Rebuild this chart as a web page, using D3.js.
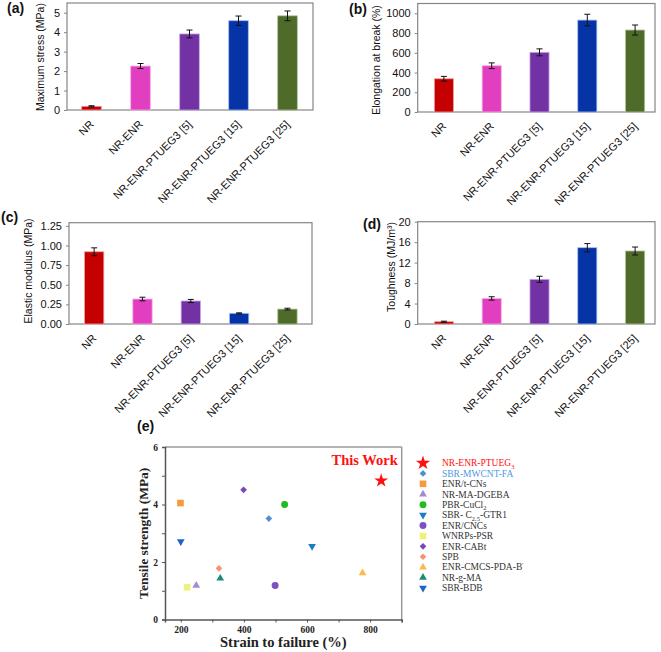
<!DOCTYPE html>
<html><head><meta charset="utf-8">
<script src="https://cdn.jsdelivr.net/npm/d3@7"></script>
<style>body{margin:0;background:#fff}svg{display:block}</style>
</head><body>
<svg id="c" width="661" height="652"></svg>
<script>
// ---------- data ----------
const categories = ["NR","NR-ENR","NR-ENR-PTUEG3 [5]","NR-ENR-PTUEG3 [15]","NR-ENR-PTUEG3 [25]"];
const barColors  = ["#c40000","#e23ec0","#7232a4","#0634a6","#4e6b2a"];
const barStrokes = ["#f0a0a0","#f7b0e6","#c8a8e4","#a8bcf0","#b0c098"];

const maxStress     = [0.19, 2.26, 3.91, 4.59, 4.84];
const maxStressErr  = [0.03, 0.13, 0.20, 0.24, 0.25];
const stressTicks   = [0,1,2,3,4,5];

const elongation    = [337, 469, 605, 932, 831];
const elongationErr = [24, 29, 35, 59, 51];
const elongTicks    = [0,200,400,600,800,1000];

const modulus       = [0.92, 0.318, 0.293, 0.136, 0.19];
const modulusErr    = [0.05, 0.023, 0.02, 0.006, 0.011];
const modulusTicks  = [0,0.25,0.5,0.75,1.0,1.25];

const toughness     = [0.45, 5.0, 8.73, 14.92, 14.27];
const toughnessErr  = [0.1, 0.33, 0.6, 0.8, 0.78];
const toughTicks    = [0,4,8,12,16,20];

// comparison scatter (e)
const compNames  = ["NR-ENR-PTUEG3","SBR-MWCNT-FA","ENR/t-CNs","NR-MA-DGEBA","PBR-CuCl2","SBR- C2.5-GTR1","ENR/CNCs","WNRPs-PSR","ENR-CABt","SPB","ENR-CMCS-PDA-B'","NR-g-MA","SBR-BDB"];
const compStrain = [835, 479, 199, 249, 529, 616, 499, 220, 399, 321, 776, 325, 200];
const compStress = [4.83, 3.51, 4.05, 1.18, 4.0, 2.55, 1.18, 1.12, 4.51, 1.78, 1.62, 1.43, 2.71];
const compColors = ["#ff1010","#4f8fd0","#f89a3c","#a48ad0","#22bb22","#1a7fc0","#7c52c0","#eef27a","#7a46b8","#f99070","#fdb84e","#1a8c72","#1f62cc"];
const compShapes = ["star","diamond","square","triangle","circle","down","circle","square","diamond","diamond","triangle","triangle","down"];
const strainTicks = [200,300,400,500,600,700,800,900];
const tensileTicks = [0,1,2,3,4,5,6];

// ---------- drawing ----------
const svg = d3.select("#c");
svg.append("rect").attr("width",661).attr("height",652).attr("fill","#fff");
const SANS = "'Liberation Sans', Arial, sans-serif";
const SERIF = "'Liberation Serif', 'Times New Roman', serif";

function barPanel(o){
  const g = svg.append("g");
  const x = d3.scaleBand().domain(categories).range(o.band).paddingInner(0.6).paddingOuter(0.3);
  const y = d3.scaleLinear().domain([0,o.max]).range([o.bottom,o.top]);
  g.append("rect").attr("x",o.left).attr("y",o.top).attr("width",o.right-o.left).attr("height",o.bottom-o.top)
    .attr("fill","none").attr("stroke","#858585").attr("stroke-width",1.2);
  g.selectAll("rect.bar").data(o.values).join("rect").attr("class","bar")
    .attr("x",(d,i)=>x(categories[i])).attr("y",d=>y(d))
    .attr("width",x.bandwidth()).attr("height",d=>y(0)-y(d))
    .attr("fill",(d,i)=>barColors[i]).attr("stroke",(d,i)=>barStrokes[i]).attr("stroke-width",0.8);
  const eg = g.append("g").attr("stroke","#111").attr("stroke-width",1);
  o.values.forEach((v,i)=>{
    const cx = x(categories[i]) + x.bandwidth()/2, e = o.errs[i];
    eg.append("line").attr("x1",cx).attr("x2",cx).attr("y1",y(v-e)).attr("y2",y(v+e));
    eg.append("line").attr("x1",cx-3).attr("x2",cx+3).attr("y1",y(v-e)).attr("y2",y(v-e));
    eg.append("line").attr("x1",cx-3).attr("x2",cx+3).attr("y1",y(v+e)).attr("y2",y(v+e));
  });
  const ax = g.append("g").attr("transform",`translate(${o.left},0)`)
    .call(d3.axisLeft(y).tickValues(o.ticks).tickSize(3).tickPadding(4).tickFormat(o.fmt));
  ax.select(".domain").remove();
  ax.selectAll("line").attr("stroke","#858585");
  ax.selectAll("text").attr("font-family",SANS).attr("font-size",11).attr("fill","#111");
  g.selectAll("text.xl").data(categories).join("text").attr("class","xl")
    .attr("transform",d=>`translate(${x(d)+x.bandwidth()/2+3},${o.bottom+15}) rotate(-45)`)
    .attr("text-anchor","end").attr("font-family",SANS).attr("font-size",11).attr("fill","#111").text(d=>d);
  g.append("text").attr("transform",`translate(${o.ylx},${o.yly}) rotate(-90)`).attr("dy","0.35em")
    .attr("text-anchor","middle").attr("font-family",SANS).attr("font-size",10.5).attr("fill","#111").text(o.ylabel);
  g.append("text").attr("x",o.plx).attr("y",o.ply).attr("font-family",SANS).attr("font-weight","bold")
    .attr("font-size",14).attr("fill","#111").text(o.plabel);
}

barPanel({left:67,right:313,top:3,bottom:110,band:[67,312],max:5.5,values:maxStress,errs:maxStressErr,
  ticks:stressTicks,fmt:d3.format("d"),ylabel:"Maximum stress (MPa)",ylx:40,yly:57,plabel:"(a)",plx:7,ply:13});
barPanel({left:417.7,right:655,top:3.5,bottom:112,band:[420,659],max:1100,values:elongation,errs:elongationErr,
  ticks:elongTicks,fmt:d3.format("d"),ylabel:"Elongation at break (%)",ylx:376.7,yly:60,plabel:"(b)",plx:349,ply:14});
barPanel({left:69,right:312,top:222.7,bottom:324,band:[70,311.6],max:1.29,values:modulus,errs:modulusErr,
  ticks:modulusTicks,fmt:d3.format(".2f"),ylabel:"Elastic modulus (MPa)",ylx:28.3,yly:271,plabel:"(c)",plx:1,ply:222});
barPanel({left:417.7,right:655,top:221.7,bottom:324,band:[420,659],max:20,values:toughness,errs:toughnessErr,
  ticks:toughTicks,fmt:d3.format("d"),ylabel:"Toughness (MJ/m³)",ylx:391.7,yly:267,plabel:"(d)",plx:363,ply:229});

// ---------- panel (e) ----------
const E = {left:165,right:401.7,top:447,bottom:619.5};
const ex = d3.scaleLinear().domain([150,900]).range([E.left,E.right]);
const ey = d3.scaleLinear().domain([0,6]).range([E.bottom,E.top]);
const ge = svg.append("g");
ge.append("line").attr("x1",E.left).attr("x2",E.right).attr("y1",E.top).attr("y2",E.top).attr("stroke","#9a9a9a").attr("stroke-width",1.5);
ge.append("line").attr("x1",E.right).attr("x2",E.right).attr("y1",E.top).attr("y2",E.bottom).attr("stroke","#9a9a9a").attr("stroke-width",1.5);
const exa = ge.append("g").attr("transform",`translate(0,${E.bottom})`)
  .call(d3.axisBottom(ex).tickValues(strainTicks).tickSize(3).tickPadding(4).tickFormat(d=>d%200===0&&d<900?d:""));
const eya = ge.append("g").attr("transform",`translate(${E.left},0)`)
  .call(d3.axisLeft(ey).tickValues(tensileTicks).tickSize(3).tickPadding(4).tickFormat(d=>d%2===0?d:""));
[exa,eya].forEach(a=>{
  a.select(".domain").attr("stroke","#555").attr("stroke-width",1.5);
  a.selectAll("line").attr("stroke","#555");
  a.selectAll("text").attr("font-family",SERIF).attr("font-weight","bold").attr("font-size",9.5).attr("fill","#222");
});
ge.append("text").attr("x",(E.left+E.right)/2).attr("y",647).attr("text-anchor","middle")
  .attr("font-family",SERIF).attr("font-weight","bold").attr("font-size",14.5).attr("fill","#222").text("Strain to failure (%)");
ge.append("text").attr("transform",`translate(148,${(E.top+E.bottom)/2}) rotate(-90)`).attr("text-anchor","middle")
  .attr("font-family",SERIF).attr("font-weight","bold").attr("font-size",13.5).attr("fill","#222").text("Tensile strength (MPa)");
ge.append("text").attr("x",137).attr("y",431).attr("font-family",SANS).attr("font-weight","bold")
  .attr("font-size",14).attr("fill","#111").text("(e)");
ge.append("text").attr("x",331.5).attr("y",465).attr("font-family",SERIF).attr("font-weight","bold")
  .attr("font-size",14.5).attr("fill","#ff1010").text("This Work");

function symPath(shape, big){
  const m = {star:[d3.symbolStar, big?64:60], diamond:[d3.symbolSquare,22], square:[d3.symbolSquare,44],
    triangle:[d3.symbolTriangle,26], down:[d3.symbolTriangle,26], circle:[d3.symbolCircle,38]}[shape];
  return d3.symbol().type(m[0]).size(m[1])();
}
function symRot(shape){ return shape==="diamond"?45:(shape==="down"?180:0); }

ge.selectAll("path.pt").data(compNames).join("path").attr("class","pt")
  .attr("d",(d,i)=>symPath(compShapes[i]))
  .attr("transform",(d,i)=>`translate(${ex(compStrain[i])},${ey(compStress[i])}) rotate(${symRot(compShapes[i])})`)
  .attr("fill",(d,i)=>compColors[i]);

// legend
const legY = d3.scaleLinear().domain([0,compNames.length-1]).range([463,588]);
const lg = svg.append("g");
compNames.forEach((n,i)=>{
  const cy = legY(i);
  lg.append("path").attr("d",symPath(compShapes[i],true))
    .attr("transform",`translate(423,${cy}) rotate(${symRot(compShapes[i])})`).attr("fill",compColors[i]);
  const t = lg.append("text").attr("x",442).attr("y",cy+3.3).attr("font-family",SERIF).attr("font-size",9.5)
    .attr("fill", i===0?"#ff1010":(i===1?"#4f9ae0":"#333"));
  const sub = (s)=>t.append("tspan").attr("font-size",6.5).attr("dy",2.5).text(s);
  const back = (s)=>t.append("tspan").attr("dy",-2.5).text(s);
  if(n==="NR-ENR-PTUEG3"){ t.append("tspan").text("NR-ENR-PTUEG"); sub("3"); }
  else if(n==="PBR-CuCl2"){ t.append("tspan").text("PBR-CuCl"); sub("2"); }
  else if(n==="SBR- C2.5-GTR1"){ t.append("tspan").text("SBR- C"); sub("2.5"); back("-GTR1"); }
  else if(n==="ENR-CMCS-PDA-B'"){ t.append("tspan").text("ENR-CMCS-PDA-B"); t.append("tspan").attr("font-size",6).attr("dy",-3).text("'"); }
  else t.text(n);
});
</script>
</body></html>
